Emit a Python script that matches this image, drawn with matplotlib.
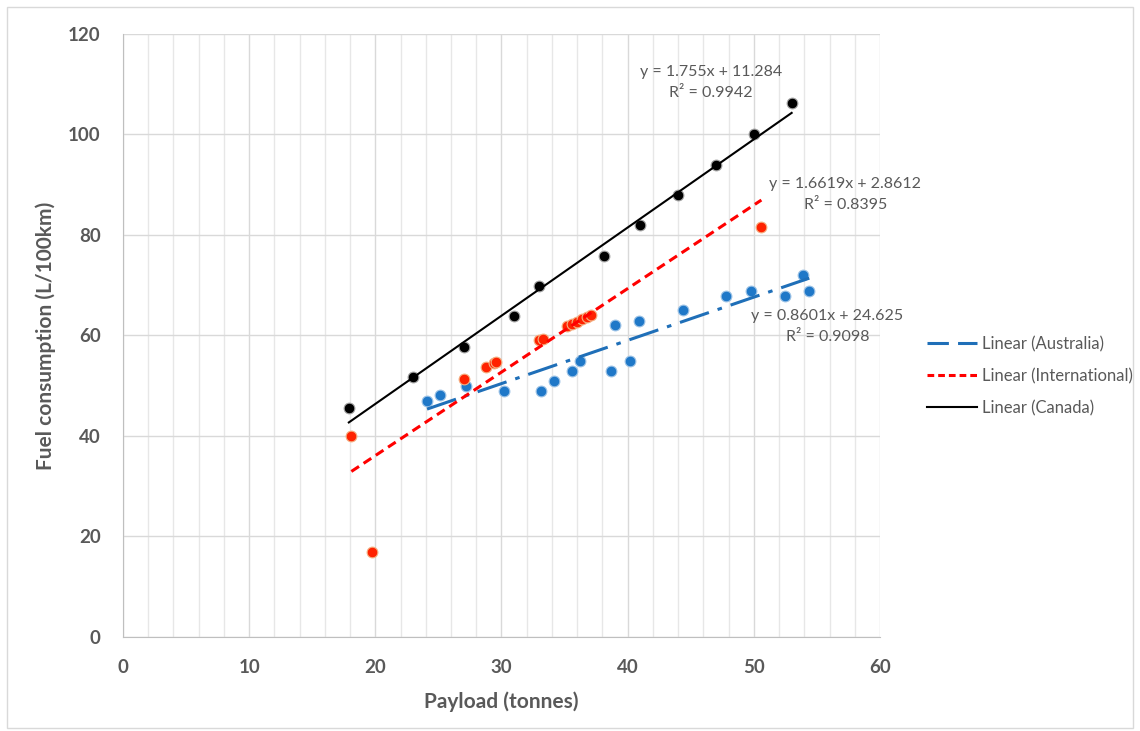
import numpy as np
import matplotlib.pyplot as plt
from matplotlib.lines import Line2D
from matplotlib.patches import Rectangle
from matplotlib.ticker import MultipleLocator

plt.rcParams['font.family'] = ['Lato', 'DejaVu Sans']

# data: payload (t) vs fuel consumption (L/100km)
canada_x = [17.9, 23.0, 27.0, 31.0, 33.0, 38.1, 41.0, 44.0, 47.0, 50.0, 53.0]
canada_y = [45.6, 51.8, 57.8, 63.9, 69.9, 75.9, 81.9, 88.0, 93.9, 100.1, 106.2]

intl_x = [18.1, 19.7, 27.0, 28.8, 29.4, 29.6, 33.0, 33.3, 35.2, 35.6, 36.0, 36.4, 36.8, 37.1, 50.6]
intl_y = [40.0, 16.9, 51.4, 53.7, 54.6, 54.8, 59.2, 59.3, 61.8, 62.3, 62.7, 63.2, 63.7, 64.1, 81.5]

aus_x = [24.1, 25.1, 27.2, 30.2, 33.1, 34.2, 35.6, 36.2, 38.7, 39.0, 40.2, 40.9, 44.4, 47.8, 49.8, 52.5, 53.9, 54.4]
aus_y = [47.0, 48.2, 49.9, 49.0, 49.0, 51.0, 53.0, 54.9, 53.0, 62.0, 54.9, 62.9, 65.0, 67.9, 68.9, 67.9, 72.0, 68.9]

# trendline coefficients shown on the chart
fits = {
    "Canada": (1.755, 11.284, 0.9942),
    "International": (1.6619, 2.8612, 0.8395),
    "Australia": (0.8601, 24.625, 0.9098),
}

GRAY = "#595959"
BLUE = "#1F6FB8"

fig = plt.figure(figsize=(11.4, 7.31), dpi=100)
ax = fig.add_axes([0.1079, 0.1286, 0.6640, 0.8249])

# border around the whole chart
fig.patches.append(Rectangle((0.006, 0.004), 0.988, 0.986, transform=fig.transFigure,
                             fill=False, edgecolor="#D9D9D9", linewidth=1))

# points
ax.scatter(aus_x, aus_y, s=60, color="#1F78C8", edgecolors="#9DC3E6", linewidths=0.8, zorder=3)
ax.scatter(intl_x, intl_y, s=60, color="#FF2200", edgecolors="#F4B183", linewidths=0.8, zorder=3)
ax.scatter(canada_x, canada_y, s=60, color="black", edgecolors="#A6A6A6", linewidths=0.8, zorder=3)

# trendlines
def trend(xs, key):
    m, b, r2 = fits[key]
    xx = np.array([min(xs), max(xs)])
    return xx, m * xx + b

xx, yy = trend(aus_x, "Australia")
ax.plot(xx, yy, color=BLUE, lw=2.2, dashes=(10, 3, 1.5, 3), zorder=4)
xx, yy = trend(intl_x, "International")
ax.plot(xx, yy, color="#FF0000", lw=2.2, dashes=(3, 1.8), zorder=4)
xx, yy = trend(canada_x, "Canada")
ax.plot(xx, yy, color="black", lw=1.5, zorder=4)

# equation labels
def eq_label(key, x1, y1, x2, y2, ha="center"):
    m, b, r2 = fits[key]
    ax.text(x1, y1, f"y = {m}x + {b}", color=GRAY, fontsize=11.5, ha=ha, va="center",
            clip_on=False)
    ax.text(x2, y2, f"R² = {r2}", color=GRAY, fontsize=11.5, ha=ha, va="center",
            clip_on=False)

eq_label("Canada", 46.6, 112.4, 46.6, 108.2)
eq_label("International", 57.2, 90.2, 57.3, 86.0)
eq_label("Australia", 55.8, 63.9, 55.9, 59.7)

# axes styling
ax.set_xlim(0, 60)
ax.set_ylim(0, 120)
ax.xaxis.set_major_locator(MultipleLocator(10))
ax.xaxis.set_minor_locator(MultipleLocator(2))
ax.yaxis.set_major_locator(MultipleLocator(20))
ax.grid(True, which="major", color="#D9D9D9", lw=1)
ax.grid(True, which="minor", axis="x", color="#E7E7E7", lw=1)
ax.set_axisbelow(True)
for side in ["top", "right"]:
    ax.spines[side].set_visible(False)
for side in ["left", "bottom"]:
    ax.spines[side].set_color("#BFBFBF")
ax.tick_params(which="both", length=0)
ax.tick_params(axis="y", pad=16)
ax.tick_params(axis="x", pad=16)
for lab in ax.get_xticklabels() + ax.get_yticklabels():
    lab.set_fontsize(13.5)
    lab.set_fontweight("bold")
    lab.set_color(GRAY)

ax.set_xlabel("Payload (tonnes)", fontsize=15, fontweight="bold", color=GRAY, labelpad=11)
ax.set_ylabel("Fuel consumption (L/100km)", fontsize=15, fontweight="bold", color=GRAY,
              labelpad=9)

handles = [
    Line2D([], [], color=BLUE, lw=2.2, dashes=(7, 3)),
    Line2D([], [], color="#FF0000", lw=2.2, dashes=(2.2, 1.3)),
    Line2D([], [], color="black", lw=1.5),
]
labels = ["Linear (Australia)", "Linear (International)", "Linear (Canada)"]
leg = fig.legend(handles, labels, loc="upper left", bbox_to_anchor=(0.800, 0.561),
                 frameon=False, fontsize=12, handlelength=3.0, labelspacing=0.95,
                 handletextpad=0.3)
for t in leg.get_texts():
    t.set_color(GRAY)

fig.savefig("out.png", dpi=100)
